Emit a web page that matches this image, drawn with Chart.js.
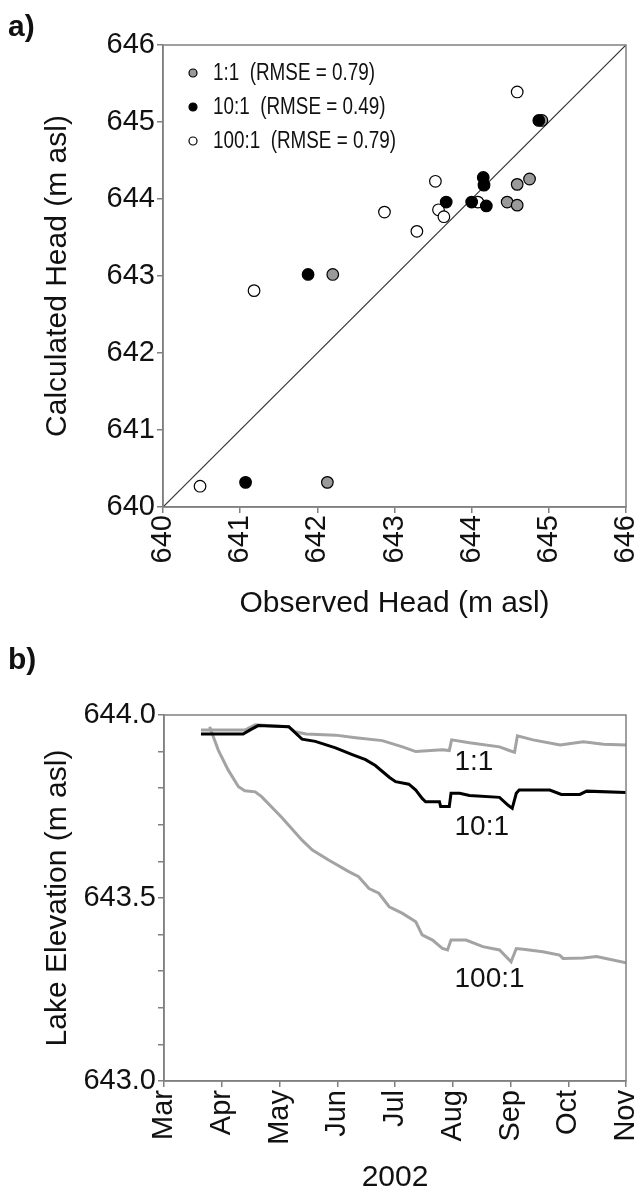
<!DOCTYPE html>
<html>
<head>
<meta charset="utf-8">
<script src="https://cdn.jsdelivr.net/npm/chart.js@4.4.1/dist/chart.umd.min.js"></script>
<style>
    html, body { margin: 0; padding: 0; background: #fff; }
    #page { position: relative; width: 640px; height: 1194px; overflow: hidden; }
    .panel { position: absolute; left: 0; width: 640px; }
    .tag { position: absolute; font: bold 30px "Liberation Sans", Arial, sans-serif; line-height: 1; color: #111; }
</style>
</head>
<body>
<div id="page">
    <div class="panel" style="top:0;height:630px"><canvas id="chartA"></canvas></div>
    <div class="panel" style="top:630px;height:564px"><canvas id="chartB"></canvas></div>
    <div class="tag" style="left:8px;top:11px">a)</div>
    <div class="tag" style="left:8px;top:644px">b)</div>
</div>
<script>
// a) observed vs calculated head (m asl)
const obs11 = [642.20, 642.13, 644.46, 644.59, 644.59, 644.75, 644.91];
const calc11 = [643.02, 640.32, 643.96, 643.92, 644.19, 644.26, 645.02];
const obs10 = [641.88, 641.07, 643.67, 644.00, 644.19, 644.15, 644.16, 644.87];
const calc10 = [643.02, 640.32, 643.96, 643.96, 643.91, 644.28, 644.18, 645.02];
const obs100 = [640.48, 641.18, 642.87, 643.29, 643.53, 643.57, 643.64, 644.08, 644.59];
const calc100 = [640.27, 642.81, 643.83, 643.58, 644.23, 643.86, 643.77, 643.96, 645.39];
const diagX = [640, 646];
const diagY = [640, 646];
const seriesNames = ['1:1  (RMSE = 0.79)', '10:1  (RMSE = 0.49)', '100:1  (RMSE = 0.79)'];

// b) lake elevation, x = months after 1 March 2002
const months = ['Mar', 'Apr', 'May', 'Jun', 'Jul', 'Aug', 'Sep', 'Oct', 'Nov'];
const t11 = [0.64, 1.40, 1.58, 2.16, 2.27, 2.46, 2.97, 3.32, 3.78, 4.13, 4.36, 4.82, 4.94, 4.98, 5.29, 5.81, 5.98, 6.07, 6.12, 6.39, 6.86, 7.26, 7.61, 8.0];
const h11 = [643.959, 643.959, 643.973, 643.968, 643.954, 643.948, 643.945, 643.938, 643.930, 643.913, 643.900, 643.905, 643.903, 643.932, 643.924, 643.913, 643.903, 643.898, 643.943, 643.932, 643.918, 643.927, 643.920, 643.918];
const t10 = [0.64, 1.37, 1.50, 1.63, 2.16, 2.39, 2.62, 2.97, 3.26, 3.49, 3.66, 3.90, 4.01, 4.24, 4.36, 4.47, 4.53, 4.77, 4.79, 4.94, 4.97, 5.12, 5.29, 5.81, 5.955, 6.03, 6.10, 6.15, 6.68, 6.88, 7.2, 7.32, 8.0];
const h10 = [643.948, 643.948, 643.960, 643.971, 643.968, 643.934, 643.928, 643.910, 643.892, 643.878, 643.862, 643.830, 643.818, 643.811, 643.795, 643.772, 643.763, 643.763, 643.750, 643.750, 643.786, 643.786, 643.780, 643.775, 643.754, 643.745, 643.786, 643.795, 643.795, 643.783, 643.783, 643.792, 643.788];
const t100 = [0.79, 0.94, 1.11, 1.29, 1.40, 1.58, 1.69, 2.04, 2.39, 2.57, 2.85, 3.20, 3.37, 3.55, 3.72, 3.90, 4.13, 4.36, 4.47, 4.65, 4.82, 4.91, 4.97, 5.23, 5.52, 5.81, 6.01, 6.10, 6.22, 6.56, 6.85, 6.91, 7.26, 7.49, 8.0];
const h100 = [643.968, 643.904, 643.850, 643.804, 643.793, 643.790, 643.777, 643.720, 643.658, 643.631, 643.604, 643.572, 643.558, 643.526, 643.513, 643.476, 643.458, 643.435, 643.399, 643.385, 643.362, 643.358, 643.385, 643.385, 643.367, 643.358, 643.326, 643.362, 643.360, 643.353, 643.344, 643.335, 643.336, 643.340, 643.323];
const curveNames = ['1:1', '10:1', '100:1'];

const axisGray = '#808080';
const ink = '#111';
const FONT = '"Liberation Sans", Arial, sans-serif';

Chart.defaults.font.family = FONT;
Chart.defaults.color = ink;

const toPoints = (xs, ys) => xs.map((x, i) => ({ x, y: ys[i] }));

// force axis sizes so the plot boxes land where the reference has them
const fixSize = (w, h) => (scale) => {
    if (w !== null) scale.width = w;
    if (h !== null) scale.height = h;
    scale.paddingLeft = 0;
    scale.paddingRight = 0;
    scale.paddingTop = 0;
    scale.paddingBottom = 0;
};

const frame = {
    id: 'frame',
    afterDraw(chart) {
        const { ctx, chartArea: a } = chart;
        ctx.save();
        ctx.strokeStyle = axisGray;
        ctx.lineWidth = 1.5;
        ctx.strokeRect(a.left, a.top, a.right - a.left, a.bottom - a.top);
        ctx.restore();
    },
};

// legend text in the reference is a condensed face: squeeze regular Liberation Sans
const scatterLegend = {
    id: 'scatterLegend',
    afterDatasetsDraw(chart) {
        const { ctx } = chart;
        chart.data.datasets.filter((d) => d.row !== undefined).forEach((d) => {
            const y = 73 + d.row * 34;
            ctx.save();
            ctx.beginPath();
            ctx.arc(193, y, 4, 0, Math.PI * 2);
            ctx.fillStyle = d.backgroundColor;
            ctx.fill();
            ctx.lineWidth = 1.2;
            ctx.strokeStyle = '#000';
            ctx.stroke();
            ctx.translate(213, y + 1);
            ctx.scale(0.82, 1);
            ctx.font = '23px ' + FONT;
            ctx.textBaseline = 'middle';
            ctx.fillStyle = ink;
            ctx.fillText(d.label, 0, 0);
            ctx.restore();
        });
    },
};

const curveLabels = {
    id: 'curveLabels',
    afterDatasetsDraw(chart) {
        const { ctx, scales } = chart;
        const anchors = [[5.03, 643.872], [5.03, 643.694], [5.03, 643.279]];
        ctx.save();
        ctx.font = '28px ' + FONT;
        ctx.fillStyle = ink;
        ctx.textBaseline = 'middle';
        curveNames.forEach((name, i) => {
            ctx.fillText(name, scales.x.getPixelForValue(anchors[i][0]), scales.y.getPixelForValue(anchors[i][1]));
        });
        ctx.restore();
    },
};

const baseAxis = {
    border: { display: true, color: axisGray, width: 1.5 },
    grid: { drawOnChartArea: false, drawTicks: true, tickLength: 6, color: axisGray, lineWidth: 1.5 },
};

const dot = (label, row, fill, xs, ys, order) => ({
    label, row,
    data: toPoints(xs, ys),
    backgroundColor: fill,
    borderColor: '#000',
    borderWidth: 1.2,
    pointRadius: 5.8,
    order,
});

new Chart(document.getElementById('chartA'), {
    type: 'scatter',
    data: {
        datasets: [
            dot(seriesNames[0], 0, '#9a9a9a', obs11, calc11, 1),
            dot(seriesNames[1], 1, '#000000', obs10, calc10, 0),
            dot(seriesNames[2], 2, '#ffffff', obs100, calc100, 2),
            {
                data: toPoints(diagX, diagY),
                showLine: true,
                pointRadius: 0,
                borderColor: '#333',
                borderWidth: 1.2,
                order: 3,
            },
        ],
    },
    options: {
        responsive: true,
        maintainAspectRatio: false,
        animation: false,
        layout: { padding: { top: 45, right: 14, left: 0, bottom: 0 } },
        plugins: { legend: { display: false }, tooltip: { enabled: false } },
        scales: {
            x: {
                ...baseAxis,
                min: 640, max: 646,
                afterFit: fixSize(null, 123),
                ticks: { stepSize: 1, autoSkip: false, minRotation: 90, maxRotation: 90, padding: 2, font: { size: 29 } },
                title: { display: true, text: 'Observed Head (m asl)', font: { size: 30 }, padding: { top: 0, bottom: 8 } },
            },
            y: {
                ...baseAxis,
                min: 640, max: 646,
                afterFit: fixSize(163, null),
                ticks: { stepSize: 1, autoSkip: false, padding: 2, font: { size: 29 } },
                title: { display: true, text: 'Calculated Head (m asl)', font: { size: 30 }, padding: { top: 40, bottom: 0 } },
            },
        },
    },
    plugins: [frame, scatterLegend],
});

const curve = (xs, ys, color) => ({
    data: toPoints(xs, ys),
    showLine: true,
    pointRadius: 0,
    borderColor: color,
    borderWidth: 3,
    tension: 0,
});

new Chart(document.getElementById('chartB'), {
    type: 'scatter',
    data: {
        datasets: [
            curve(t10, h10, '#000000'),
            curve(t11, h11, '#a3a3a3'),
            curve(t100, h100, '#a3a3a3'),
        ],
    },
    options: {
        responsive: true,
        maintainAspectRatio: false,
        animation: false,
        layout: { padding: { top: 85, right: 14, left: 0, bottom: 0 } },
        plugins: { legend: { display: false }, tooltip: { enabled: false } },
        scales: {
            x: {
                ...baseAxis,
                min: 0, max: 8,
                afterFit: fixSize(null, 113),
                ticks: {
                    stepSize: 1, autoSkip: false, minRotation: 90, maxRotation: 90, padding: 3, font: { size: 29 },
                    callback: (v) => months[v] ?? '',
                },
                title: { display: true, text: '2002', font: { size: 30, lineHeight: 1 }, padding: { top: 0, bottom: 1 } },
            },
            y: {
                ...baseAxis,
                min: 643, max: 644,
                afterFit: fixSize(164, null),
                ticks: {
                    stepSize: 0.1, autoSkip: false, maxTicksLimit: 20, padding: 2, font: { size: 29 },
                    callback: (v) => (Math.abs(v * 2 - Math.round(v * 2)) < 1e-6 ? Number(v).toFixed(1) : ''),
                },
                title: { display: true, text: 'Lake Elevation (m asl)', font: { size: 30 }, padding: { top: 40, bottom: 0 } },
            },
        },
    },
    plugins: [frame, curveLabels],
});
</script>
</body>
</html>
